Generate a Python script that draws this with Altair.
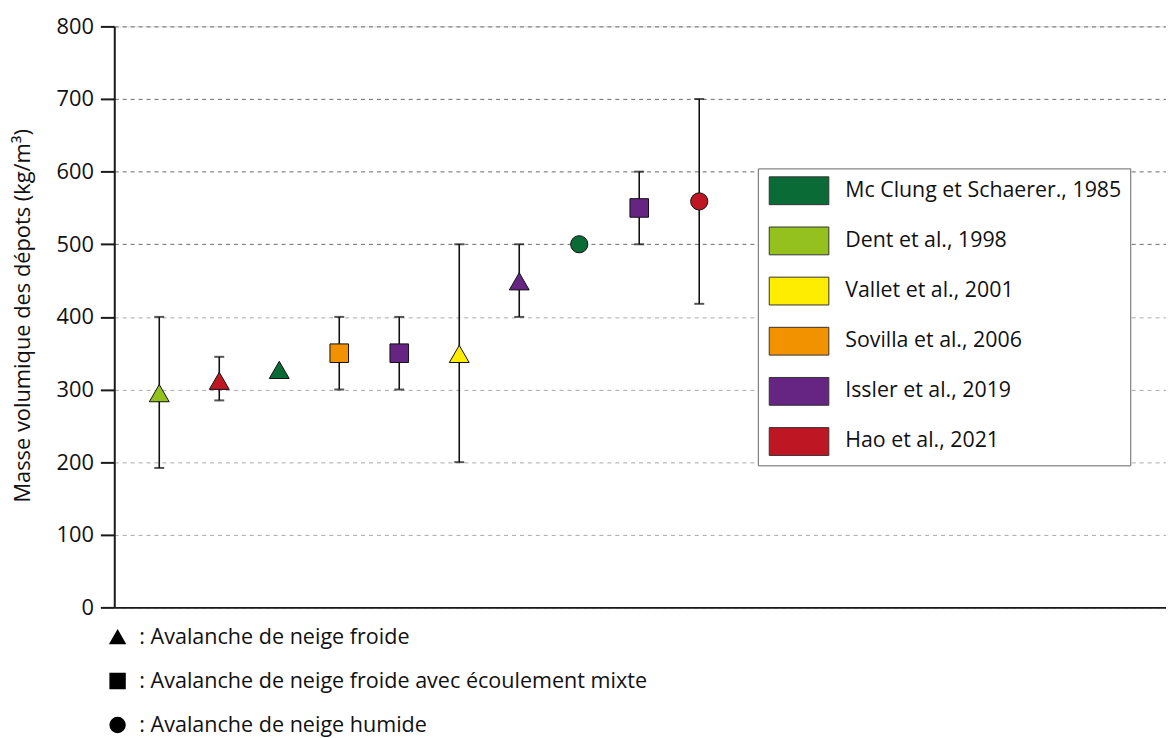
import altair as alt
import pandas as pd

# ---- data ----
positions = [1, 2, 3, 4, 5, 6, 7, 8, 9, 10]
studies = [
    "Dent et al., 1998",
    "Hao et al., 2021",
    "Mc Clung et Schaerer., 1985",
    "Sovilla et al., 2006",
    "Issler et al., 2019",
    "Vallet et al., 2001",
    "Issler et al., 2019",
    "Mc Clung et Schaerer., 1985",
    "Issler et al., 2019",
    "Hao et al., 2021",
]
types = [
    "Avalanche de neige froide",
    "Avalanche de neige froide",
    "Avalanche de neige froide",
    "Avalanche de neige froide avec écoulement mixte",
    "Avalanche de neige froide avec écoulement mixte",
    "Avalanche de neige froide",
    "Avalanche de neige froide",
    "Avalanche de neige humide",
    "Avalanche de neige froide avec écoulement mixte",
    "Avalanche de neige humide",
]
values = [295, 312, 327, 350, 350, 349, 449, 500, 550, 559]
lows = [192, 285, None, 300, 300, 200, 400, None, 500, 418]
highs = [400, 345, None, 400, 400, 500, 500, None, 600, 700]

study_order = [
    "Mc Clung et Schaerer., 1985",
    "Dent et al., 1998",
    "Vallet et al., 2001",
    "Sovilla et al., 2006",
    "Issler et al., 2019",
    "Hao et al., 2021",
]
study_colors = ["#0B6B37", "#95C11F", "#FFED00", "#F39200", "#662483", "#BE1622"]
type_order = [
    "Avalanche de neige froide",
    "Avalanche de neige froide avec écoulement mixte",
    "Avalanche de neige humide",
]
type_shapes = ["triangle-up", "square", "circle"]
type_sizes = [400, 300, 300]  # sizes in alphabetical order of the types
y_ticks = [0, 100, 200, 300, 400, 500, 600, 700, 800]

df = pd.DataFrame({
    "pos": positions,
    "study": studies,
    "type": types,
    "value": values,
    "low": lows,
    "high": highs,
})

FONT = "Open Sans"

xscale = alt.Scale(domain=[0.25, 17.78], nice=False, zero=False)
yscale = alt.Scale(domain=[0, 800], nice=False)

x_enc = alt.X("pos:Q", scale=xscale,
              axis=alt.Axis(labels=False, ticks=False, grid=False, title=None,
                            domainColor="#1a1a1a", domainWidth=2))

base = alt.Chart(df)

err = base.transform_filter("isValid(datum.low)")

grid_color = {"condition": {"test": "datum.value >= 500", "value": "#6a6a6a"},
              "value": "#a8a8a8"}

rules = err.mark_rule(color="#111", strokeWidth=1.6).encode(
    x=x_enc,
    y=alt.Y("low:Q", scale=yscale,
            axis=alt.Axis(values=y_ticks, title="Masse volumique des dépots (kg/m³)",
                          grid=True, gridDash=[4, 4], gridColor=grid_color, gridWidth=1,
                          domainColor="#1a1a1a", domainWidth=2,
                          tickColor="#1a1a1a", tickWidth=2, tickSize=14,
                          labelPadding=7, labelFontSize=22, labelColor="#111",
                          labelFont=FONT,
                          titleFont=FONT, titleFontSize=22, titleFontWeight="normal",
                          titleColor="#111", titleAngle=-90, titleX=-92, titleY=291,
                          titleAlign="center", titleBaseline="middle")),
    y2="high:Q",
)

caps_low = err.mark_tick(orient="horizontal", size=10, thickness=2, color="#111").encode(
    x=alt.X("pos:Q", scale=xscale), y=alt.Y("low:Q", scale=yscale))
caps_high = err.mark_tick(orient="horizontal", size=10, thickness=2, color="#111").encode(
    x=alt.X("pos:Q", scale=xscale), y=alt.Y("high:Q", scale=yscale))

points = base.transform_calculate(kind="datum.type").mark_point(
    filled=True, fillOpacity=1, opacity=1, stroke="#111",
    strokeWidth=1, strokeOpacity=1).encode(
    x=alt.X("pos:Q", scale=xscale),
    y=alt.Y("value:Q", scale=yscale),
    fill=alt.Fill("study:N",
                  scale=alt.Scale(domain=study_order, range=study_colors),
                  legend=alt.Legend(
                      title=None, orient="none", legendX=648, legendY=143,
                      direction="vertical",
                      symbolType="M-0.786,-1H3.5V1H-0.786Z", symbolSize=784,
                      symbolStrokeColor="#333", symbolStrokeWidth=1,
                      symbolOpacity=1,
                      labelFont=FONT, labelFontSize=21.5, labelColor="#111",
                      labelOffset=51, rowPadding=17.5, padding=8,
                      fillColor="white", strokeColor="#666",
                      labelLimit=400,
                  )),
    shape=alt.Shape("type:N",
                    scale=alt.Scale(domain=type_order, range=type_shapes),
                    legend=alt.Legend(
                        title=None, orient="none", legendX=-7.5, legendY=604,
                        direction="vertical", symbolSize=225,
                        symbolFillColor="black", symbolStrokeColor="black",
                        symbolOpacity=1,
                        labelExpr="': ' + datum.label",
                        labelFont=FONT, labelFontSize=21.7, labelColor="#111",
                        labelOffset=11, rowPadding=21.3, padding=0,
                        labelLimit=700,
                    )),
    size=alt.Size("kind:N", scale=alt.Scale(range=type_sizes), legend=None),
)

chart = alt.layer(rules, caps_low, caps_high, points).properties(
    width=1059, height=585,
    autosize=alt.AutoSizeParams(type="none"),
    padding={"left": 107, "top": 16, "right": 0, "bottom": 129},
).configure_view(stroke=None).configure(font=FONT)

chart.save("out.html", embed_options={"renderer": "svg", "actions": False})
